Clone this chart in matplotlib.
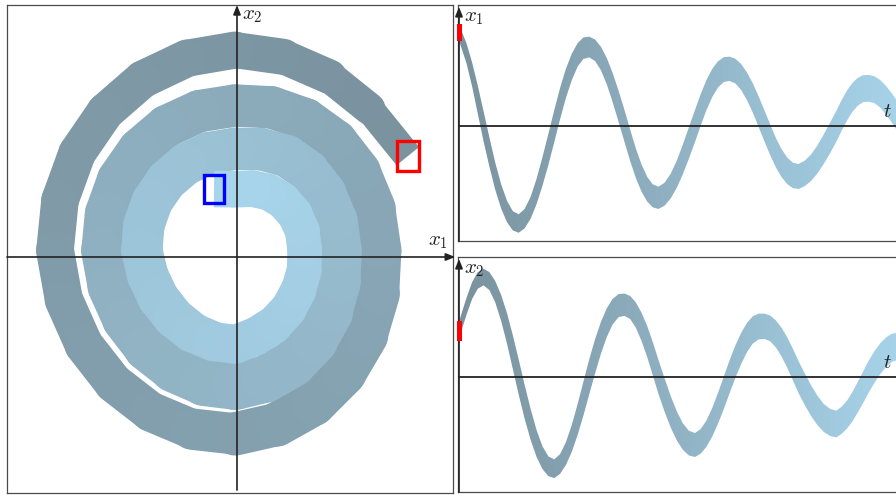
import numpy as np
import matplotlib
matplotlib.use('Agg')
import matplotlib.pyplot as plt
from matplotlib.collections import LineCollection
from matplotlib.colors import LinearSegmentedColormap
from matplotlib.patches import Rectangle

plt.rcParams['mathtext.fontset'] = 'cm'

# samples, about every 15 deg of rotation
t = [0.0, 0.75, 1.32, 1.88, 2.45,
     3.04, 3.62, 4.21, 4.80, 5.38, 5.97,
     6.56, 7.16, 7.75, 8.34, 8.94, 9.53,
     10.11, 10.69, 11.28, 11.86, 12.44, 13.02,
     13.61, 14.20, 14.79, 15.37, 15.96, 16.55,
     17.12, 17.68, 18.25, 18.82, 19.38, 19.95,
     20.56, 21.17, 21.78, 22.38, 22.99, 23.6,
     24.18, 24.75, 25.33, 25.9, 26.48, 27.05,
     27.63, 28.22, 28.80, 29.38, 29.97, 30.55,
     31.12, 31.68, 32.25, 32.82, 33.38, 33.95,
     34.58, 35.22, 35.85, 36.48, 37.12, 37.75,
     38.28, 38.82, 39.35, 39.88, 40.42, 40.95,
     41.53, 42.12, 42.70, 43.28, 43.87, 44.45,
     45.15]
x1_mid = [9.35, 7.27, 5.12, 2.63, 0.0,
          -2.60, -5.00, -7.02, -8.55, -9.48, -9.75,
          -9.27, -8.18, -6.57, -4.57, -2.33, 0.0,
          2.25, 4.26, 5.91, 7.11, 7.78, 7.9,
          7.57, 6.74, 5.46, 3.83, 1.97, 0.0,
          -1.94, -3.71, -5.20, -6.32, -6.99, -7.18,
          -6.82, -6.01, -4.82, -3.35, -1.70, 0.0,
          1.64, 3.11, 4.31, 5.16, 5.64, 5.72,
          5.50, 4.89, 3.97, 2.80, 1.42, 0.0,
          -1.38, -2.65, -3.70, -4.48, -4.94, -5.05,
          -4.74, -4.16, -3.33, -2.31, -1.18, 0.0,
          1.09, 2.08, 2.87, 3.42, 3.74, 3.77,
          3.64, 3.22, 2.59, 1.81, 0.93, 0.0,
          -1.14]
x2_mid = [4.7, 7.07, 8.66, 9.66, 10.0,
          9.59, 8.54, 6.92, 4.86, 2.50, 0.0,
          -2.47, -4.73, -6.63, -8.06, -8.93, -9.17,
          -8.70, -7.66, -6.14, -4.26, -2.17, 0.0,
          2.08, 3.94, 5.46, 6.54, 7.14, 7.23,
          6.95, 6.20, 5.03, 3.55, 1.83, 0.0,
          -1.81, -3.47, -4.89, -5.95, -6.61, -6.8,
          -6.43, -5.66, -4.52, -3.13, -1.59, 0.0,
          1.52, 2.86, 3.95, 4.71, 5.05, 5.07,
          4.86, 4.32, 3.50, 2.46, 1.26, 0.0,
          -1.23, -2.38, -3.35, -4.10, -4.55, -4.70,
          -4.31, -3.74, -2.96, -2.02, -1.01, 0.0,
          0.98, 1.82, 2.48, 2.91, 3.08, 3.05,
          3.06]
# vertical thickness of the bands in the time plots
x1_thick = [1.6, 2.0, 2.4, 2.8, 3.0,
            2.92, 2.71, 2.43, 2.14, 1.93, 1.85,
            1.94, 2.19, 2.53, 2.86, 3.11, 3.2,
            3.12, 2.92, 2.64, 2.35, 2.15, 2.07,
            2.15, 2.35, 2.64, 2.92, 3.12, 3.2,
            3.14, 2.96, 2.72, 2.47, 2.30, 2.23,
            2.30, 2.47, 2.72, 2.96, 3.14, 3.2,
            3.15, 3.01, 2.82, 2.62, 2.48, 2.43,
            2.47, 2.6, 2.77, 2.93, 3.06, 3.1,
            3.06, 2.95, 2.8, 2.65, 2.54, 2.5,
            2.54, 2.65, 2.8, 2.95, 3.06, 3.1,
            3.07, 3.0, 2.89, 2.78, 2.70, 2.67,
            2.69, 2.75, 2.84, 2.92, 2.98, 3.0,
            3.0]
x2_thick = [1.67, 1.7, 1.68, 1.67, 1.67,
            1.79, 2.13, 2.59, 3.04, 3.38, 3.5,
            3.39, 3.09, 2.69, 2.28, 1.98, 1.87,
            1.98, 2.28, 2.69, 3.09, 3.39, 3.5,
            3.42, 3.18, 2.87, 2.55, 2.31, 2.23,
            2.31, 2.52, 2.82, 3.11, 3.32, 3.4,
            3.33, 3.15, 2.9, 2.65, 2.47, 2.4,
            2.46, 2.63, 2.85, 3.08, 3.24, 3.3,
            3.25, 3.11, 2.92, 2.72, 2.58, 2.53,
            2.57, 2.7, 2.87, 3.03, 3.16, 3.2,
            3.16, 3.07, 2.94, 2.8, 2.71, 2.67,
            2.71, 2.8, 2.94, 3.07, 3.16, 3.2,
            3.17, 3.08, 2.95, 2.83, 2.73, 2.7,
            2.7]
# width of the tube in the phase plane
tube_w = [1.4, 1.6, 1.75, 1.85, 1.9,
          1.95, 1.95, 1.95, 1.95, 1.95, 1.95,
          2.0, 2.0, 2.05, 2.05, 2.1, 2.2,
          2.3, 2.3, 2.3, 2.25, 2.15, 2.1,
          2.15, 2.2, 2.2, 2.2, 2.2, 2.2,
          2.2, 2.2, 2.2, 2.2, 2.2, 2.2,
          2.25, 2.25, 2.3, 2.35, 2.4, 2.45,
          2.45, 2.45, 2.4, 2.3, 2.2, 2.2,
          2.15, 2.15, 2.2, 2.2, 2.2, 2.2,
          2.2, 2.2, 2.15, 2.15, 2.15, 2.15,
          2.15, 2.15, 2.15, 2.1, 2.05, 2.0,
          2.0, 1.95, 1.9, 1.85, 1.8, 1.8,
          1.8, 1.85, 1.9, 1.9, 1.9, 1.9,
          1.9]
# initial and final boxes
x0_box = [8.75, 9.95]
y0_box = [3.95, 5.45]
xf_box = [-1.70, -0.58]
yf_box = [2.37, 3.77]

t = np.array(t)
x1_mid = np.array(x1_mid)
x2_mid = np.array(x2_mid)
x1_thick = np.array(x1_thick)
x2_thick = np.array(x2_thick)
tube_w = np.array(tube_w)

cmap = LinearSegmentedColormap.from_list('tube', ['#7a929e', '#a8d5ec'])
t_end = t[-1]
axis_col = '#222222'
frame_col = '#4a4a4a'
W, H = 896, 496

fig = plt.figure(figsize=(8.96, 4.96), dpi=100)

# ---- phase plane
ax = fig.add_axes([7 / W, 3 / H, 446 / W, 488 / H])
ax.set_xlim(-12.35, 11.8)
ax.set_ylim(-12.12, 12.25)
ax.set_xticks([])
ax.set_yticks([])
for s in ax.spines.values():
    s.set_color(frame_col)
    s.set_linewidth(0.9)

px_x = 446 / (11.8 + 12.35)
px_y = 488 / (12.25 + 12.12)
pt_per_unit = 0.5 * (px_x + px_y) * 72 / 100

pts = np.column_stack([x1_mid, x2_mid])
segs = np.stack([pts[:-1], pts[1:]], axis=1)
seg_col = cmap(0.5 * (t[:-1] + t[1:]) / t_end)
seg_w = 0.5 * (tube_w[:-1] + tube_w[1:]) * pt_per_unit

first = LineCollection(segs[:1], colors=seg_col[:1], linewidths=seg_w[:1], zorder=1)
first.set_capstyle('butt')
mid = LineCollection(segs[1:-1], colors=seg_col[1:-1], linewidths=seg_w[1:-1], zorder=1.1)
mid.set_capstyle('round')
mid.set_joinstyle('round')
last = LineCollection(segs[-1:], colors=seg_col[-1:], linewidths=seg_w[-1:], zorder=1.2)
last.set_capstyle('butt')
ax.add_collection(first)
ax.add_collection(mid)
ax.add_collection(last)

arrow = dict(arrowstyle='-|>,head_length=0.55,head_width=0.22', color=axis_col,
             lw=1.2, mutation_scale=10, shrinkA=0, shrinkB=0)
ox = (237 - 7) / 446
oy = (493 - 257) / 488
ax.annotate('', xy=(1.005, oy), xytext=(0, oy), xycoords='axes fraction',
            arrowprops=arrow, zorder=5, annotation_clip=False)
ax.annotate('', xy=(ox, 1.0), xytext=(ox, 0.006), xycoords='axes fraction',
            arrowprops=arrow, zorder=5, annotation_clip=False)
ax.text(0.989, oy + 0.012, r'$x_1$', transform=ax.transAxes, ha='right',
        va='bottom', fontsize=15, color=axis_col)
ax.text(ox + 0.011, 1.0, r'$x_2$', transform=ax.transAxes, ha='left',
        va='top', fontsize=15, color=axis_col)

ax.add_patch(Rectangle((x0_box[0], y0_box[0]), x0_box[1] - x0_box[0],
                       y0_box[1] - y0_box[0], fill=False, edgecolor='#ff0000',
                       lw=2.4, zorder=6))
ax.add_patch(Rectangle((xf_box[0], yf_box[0]), xf_box[1] - xf_box[0],
                       yf_box[1] - yf_box[0], fill=False, edgecolor='#0000ff',
                       lw=2.4, zorder=6))


# ---- time plots
def time_panel(rect, mid_vals, thick, ylim, label, init):
    a = fig.add_axes(rect)
    a.set_xticks([])
    a.set_yticks([])
    for s in a.spines.values():
        s.set_color(frame_col)
        s.set_linewidth(0.9)
    lo = mid_vals - thick / 2
    hi = mid_vals + thick / 2
    band = a.fill_between(t, lo, hi, color='none', lw=0)
    grad = np.linspace(0, 1, 256).reshape(1, -1)
    im = a.imshow(grad, extent=[0, t_end, ylim[0], ylim[1]], aspect='auto',
                  cmap=cmap, origin='lower', zorder=1)
    im.set_clip_path(band.get_paths()[0], transform=a.transData)
    a.set_xlim(-0.1, 46.5)
    a.set_ylim(*ylim)
    a.axhline(0, color=axis_col, lw=1.3, zorder=3)
    a.annotate('', xy=(0, 0.992), xytext=(0, 0), xycoords=('data', 'axes fraction'),
               arrowprops=arrow, zorder=5, annotation_clip=False)
    a.plot([0, 0], init, color='#ff0000', lw=3.6, solid_capstyle='projecting',
           zorder=6, clip_on=False)
    a.text(0.012, 0.99, label, transform=a.transAxes, ha='left', va='top',
           fontsize=15, color=axis_col)
    zero_frac = -ylim[0] / (ylim[1] - ylim[0])
    a.text(0.913, zero_frac + 0.02, r'$t$', transform=a.transAxes, ha='left',
           va='bottom', fontsize=15, color=axis_col)
    return a


time_panel([458 / W, 255 / H, 466 / W, 236 / H], x1_mid, x1_thick,
           (-11.5, 12.1), r'$x_1$', x0_box)
time_panel([458 / W, 4 / H, 466 / W, 235 / H], x2_mid, x2_thick,
           (-11.5, 12.0), r'$x_2$', y0_box)

fig.savefig('out.png', dpi=100)
